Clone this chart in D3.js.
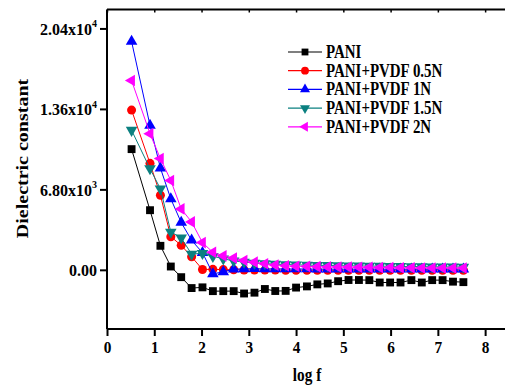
<!DOCTYPE html>
<html>
<head>
<meta charset="utf-8">
<script src="https://cdn.jsdelivr.net/npm/d3@7"></script>
<style>
  body { margin: 0; background: #fff; }
  svg { display: block; font-family: 'Liberation Serif', 'Times New Roman', serif; font-weight: bold; }
</style>
</head>
<body>
<svg id="chart" width="505" height="385"></svg>
<script>
// log f values (shared by all series)
const logF = [0.52, 0.91, 1.13, 1.35, 1.57, 1.79, 2.02, 2.24, 2.46, 2.68, 2.90, 3.12, 3.34, 3.56, 3.78, 4.00,
  4.23, 4.45, 4.67, 4.89, 5.11, 5.33, 5.55, 5.77, 5.99, 6.21, 6.44, 6.66, 6.88, 7.10, 7.32, 7.54];

const pani = [10200, 5040, 2030, 280, -620, -1540, -1480, -1800, -1800, -1800, -2000, -1930, -1620, -1790, -1780, -1500,
  -1400, -1230, -1150, -960, -860, -860, -870, -1070, -1070, -1070, -870, -1070, -870, -870, -1000, -1040];
const pvdf05 = [13500, 9000, 6300, 2800, 2070, 1100, 30, 40, 20, 10, -10, -20, -20, -20, -30, -30,
  -30, -30, -30, -30, -30, -30, -30, -30, -30, -30, -30, -30, -30, -30, -30, -30];
const pvdf1 = [19300, 12200, 8600, 6000, 4000, 2500, 1450, -340, -170, 60, 80, 90, 80, 80, 70, 70,
  70, 60, 60, 60, 60, 60, 60, 60, 50, 50, 50, 50, 50, 50, 60, 60];
const pvdf15 = [11800, 8550, 6850, 3200, 2700, 1330, 1400, 1150, 930, 760, 650, 580, 520, 480, 450, 420,
  400, 380, 370, 350, 340, 330, 320, 310, 300, 290, 280, 270, 260, 250, 250, 240];
const pvdf2 = [16000, 11500, 9400, 7550, 5150, 4050, 2300, 1480, 1180, 990, 790, 650, 510, 400, 340, 310,
  290, 270, 250, 240, 230, 220, 210, 200, 190, 180, 170, 160, 160, 150, 150, 150];

const seriesNames = ['PANI', 'PANI+PVDF 0.5N', 'PANI+PVDF 1N', 'PANI+PVDF 1.5N', 'PANI+PVDF 2N'];
const seriesValues = [pani, pvdf05, pvdf1, pvdf15, pvdf2];
const seriesColors = ['#000000', '#ff0000', '#0000ff', '#0b8080', '#ff00ff'];

const xTicks = [0, 1, 2, 3, 4, 5, 6, 7, 8];
const yTicks = [0, 6800, 13600, 20400];
const yTickLabels = [['0.00', ''], ['6.80x10', '3'], ['1.36x10', '4'], ['2.04x10', '4']];

const svg = d3.select('#chart');

const x = d3.scaleLinear().domain([0, 8.45]).range([107, 506.4]);
const y = d3.scaleLinear().domain([-5000, 22000]).range([329, 9.5]);

// marker shapes: square, circle, up triangle, down triangle, left triangle
const markers = [
  { type: d3.symbolSquare, size: 62, rot: 0 },
  { type: d3.symbolCircle, size: 64, rot: 0 },
  { type: d3.symbolTriangle, size: 58, rot: 0 },
  { type: d3.symbolTriangle, size: 58, rot: 180 },
  { type: d3.symbolTriangle, size: 58, rot: -90 },
];

// frame (top line; right side falls outside the picture)
svg.append('line')
  .attr('x1', x(0)).attr('x2', x(8.45))
  .attr('y1', y(22000)).attr('y2', y(22000))
  .attr('stroke', '#000').attr('stroke-width', 2);
svg.append('line')
  .attr('x1', x(8.45)).attr('x2', x(8.45))
  .attr('y1', y(22000)).attr('y2', y(-5000))
  .attr('stroke', '#000').attr('stroke-width', 2);

// top mirror ticks
svg.append('g')
  .attr('transform', `translate(0,${y(22000)})`)
  .call(d3.axisBottom(x).tickValues(xTicks).tickSize(3).tickFormat(''))
  .call((g) => g.select('.domain').remove())
  .selectAll('line').attr('stroke-width', 1.5);

// x axis
const xAxis = svg.append('g')
  .attr('transform', `translate(0,${y(-5000)})`)
  .call(d3.axisBottom(x).tickValues(xTicks).tickSize(7).tickPadding(5).tickFormat(d3.format('d')));
xAxis.select('.domain').attr('stroke-width', 2).attr('d', `M${x(0)},0H${x(8.45)}`);
xAxis.selectAll('.tick line').attr('stroke-width', 2);
xAxis.selectAll('text')
  .attr('font-size', 17).attr('font-family', "'Liberation Serif', serif").attr('font-weight', 'bold')
  .attr('transform', 'scale(0.9,1)');

// y axis
const yAxis = svg.append('g')
  .attr('transform', `translate(${x(0)},0)`)
  .call(d3.axisLeft(y).tickValues(yTicks).tickSize(7).tickPadding(3).tickFormat(''));
yAxis.select('.domain').attr('stroke-width', 2).attr('d', `M0,${y(-5000)}V${y(22000)}`);
yAxis.selectAll('.tick line').attr('stroke-width', 2);
yAxis.selectAll('.tick text').each(function (d, i) {
  const t = d3.select(this)
    .attr('font-size', 16).attr('font-family', "'Liberation Serif', serif").attr('font-weight', 'bold')
    .attr('dy', '0.36em');
  const [base, sup] = yTickLabels[i];
  t.text(null);
  t.append('tspan').text(base);
  if (sup) {
    t.append('tspan').attr('font-size', 10).attr('dy', '-0.75em').text(sup);
  }
});

// series lines and markers
seriesValues.forEach((vals, i) => {
  const pts = logF.map((f, j) => [f, vals[j]]);
  svg.append('path')
    .datum(pts)
    .attr('fill', 'none')
    .attr('stroke', seriesColors[i])
    .attr('stroke-width', 1)
    .attr('d', d3.line().x((d) => x(d[0])).y((d) => y(d[1])));

  const m = markers[i];
  svg.append('g')
    .selectAll('path')
    .data(pts)
    .enter()
    .append('path')
    .attr('d', d3.symbol().type(m.type).size(m.size))
    .attr('fill', seriesColors[i])
    .attr('transform', (d) => `translate(${x(d[0])},${y(d[1])}) rotate(${m.rot})`);
});

// legend
const legend = svg.append('g');
seriesNames.forEach((name, i) => {
  const cy = 52 + i * 18.7;
  legend.append('line')
    .attr('x1', 288).attr('x2', 322).attr('y1', cy).attr('y2', cy)
    .attr('stroke', seriesColors[i]).attr('stroke-width', 1.2);
  const m = markers[i];
  legend.append('path')
    .attr('d', d3.symbol().type(m.type).size(m.size * 0.75))
    .attr('fill', seriesColors[i])
    .attr('transform', `translate(305,${cy}) rotate(${m.rot})`);
  legend.append('text')
    .attr('transform', `translate(326,${cy + 6}) scale(0.83,1)`)
    .attr('font-size', 18)
    .text(name);
});

// axis titles
svg.append('text')
  .attr('transform', 'translate(307,381) scale(0.85,1)')
  .attr('text-anchor', 'middle')
  .attr('font-size', 18)
  .text('log f');

svg.append('text')
  .attr('transform', 'translate(28,158.5) rotate(-90) scale(1,0.88)')
  .attr('text-anchor', 'middle')
  .attr('font-size', 20)
  .text('Dielectric constant');
</script>
</body>
</html>
